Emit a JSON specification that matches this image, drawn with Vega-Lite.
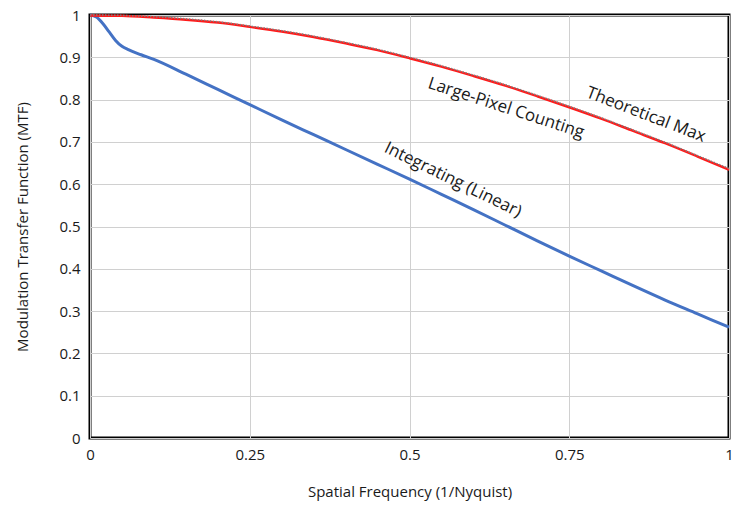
{
  "$schema": "https://vega.github.io/schema/vega-lite/v6.json",
  "width": 639,
  "height": 423,
  "autosize": "none",
  "padding": {"left": 90, "top": 15, "right": 16, "bottom": 70},
  "background": "white",
  "config": {
    "font": "Open Sans",
    "view": {"stroke": "black", "strokeWidth": 3},
    "axis": {"domain": false, "ticks": false, "grid": true, "gridColor": "#d0d0d0", "gridWidth": 1, "labelFont": "Open Sans", "labelFontSize": 15, "labelColor": "#1a1a1a", "titleFont": "Open Sans", "titleFontSize": 15, "titleFontWeight": "normal", "titleColor": "#1a1a1a"}
  },
  "datasets": {
    "theory": [
      {"f": 0, "mtf": 1.0}, {"f": 0.05, "mtf": 0.999}, {"f": 0.1, "mtf": 0.996}, {"f": 0.15, "mtf": 0.991},
      {"f": 0.2, "mtf": 0.984}, {"f": 0.25, "mtf": 0.974}, {"f": 0.3, "mtf": 0.963}, {"f": 0.35, "mtf": 0.950},
      {"f": 0.4, "mtf": 0.935}, {"f": 0.45, "mtf": 0.919}, {"f": 0.5, "mtf": 0.900}, {"f": 0.55, "mtf": 0.880},
      {"f": 0.6, "mtf": 0.858}, {"f": 0.65, "mtf": 0.835}, {"f": 0.7, "mtf": 0.810}, {"f": 0.75, "mtf": 0.784},
      {"f": 0.8, "mtf": 0.757}, {"f": 0.85, "mtf": 0.728}, {"f": 0.9, "mtf": 0.699}, {"f": 0.95, "mtf": 0.668},
      {"f": 1.0, "mtf": 0.637}
    ],
    "counting": [
      {"f": 0, "mtf": 0.999}, {"f": 0.05, "mtf": 0.998}, {"f": 0.1, "mtf": 0.994}, {"f": 0.15, "mtf": 0.989},
      {"f": 0.2, "mtf": 0.982}, {"f": 0.25, "mtf": 0.972}, {"f": 0.3, "mtf": 0.961}, {"f": 0.35, "mtf": 0.948},
      {"f": 0.4, "mtf": 0.933}, {"f": 0.45, "mtf": 0.917}, {"f": 0.5, "mtf": 0.898}, {"f": 0.55, "mtf": 0.878},
      {"f": 0.6, "mtf": 0.856}, {"f": 0.65, "mtf": 0.833}, {"f": 0.7, "mtf": 0.808}, {"f": 0.75, "mtf": 0.782},
      {"f": 0.8, "mtf": 0.755}, {"f": 0.85, "mtf": 0.726}, {"f": 0.9, "mtf": 0.697}, {"f": 0.95, "mtf": 0.666},
      {"f": 1.0, "mtf": 0.634}
    ],
    "integrating": [
      {"f": 0, "mtf": 1.0}, {"f": 0.01, "mtf": 0.995}, {"f": 0.02, "mtf": 0.98}, {"f": 0.03, "mtf": 0.96},
      {"f": 0.04, "mtf": 0.94}, {"f": 0.05, "mtf": 0.926}, {"f": 0.06, "mtf": 0.918}, {"f": 0.08, "mtf": 0.906},
      {"f": 0.1, "mtf": 0.895}, {"f": 0.15, "mtf": 0.860}, {"f": 0.2, "mtf": 0.824}, {"f": 0.25, "mtf": 0.788},
      {"f": 0.3, "mtf": 0.752}, {"f": 0.35, "mtf": 0.717}, {"f": 0.4, "mtf": 0.682}, {"f": 0.45, "mtf": 0.647},
      {"f": 0.5, "mtf": 0.612}, {"f": 0.55, "mtf": 0.576}, {"f": 0.6, "mtf": 0.540}, {"f": 0.65, "mtf": 0.503},
      {"f": 0.7, "mtf": 0.466}, {"f": 0.75, "mtf": 0.430}, {"f": 0.8, "mtf": 0.395}, {"f": 0.85, "mtf": 0.360},
      {"f": 0.9, "mtf": 0.326}, {"f": 0.95, "mtf": 0.294}, {"f": 1.0, "mtf": 0.262}
    ],
    "labels": [
      {"f": 0.870, "mtf": 0.764, "text": "Theoretical Max", "angle": 21},
      {"f": 0.651, "mtf": 0.780, "text": "Large-Pixel Counting", "angle": 18},
      {"f": 0.568, "mtf": 0.610, "text": "Integrating (Linear)", "angle": 26}
    ]
  },
  "encoding": {
    "x": {"field": "f", "type": "quantitative", "scale": {"domain": [0, 1], "nice": false},
      "axis": {"values": [0, 0.25, 0.5, 0.75, 1], "labelExpr": "datum.value + ''", "title": "Spatial Frequency (1/Nyquist)", "labelPadding": 9, "titlePadding": 22, "labelFlush": false}},
    "y": {"field": "mtf", "type": "quantitative", "scale": {"domain": [0, 1], "nice": false},
      "axis": {"values": [0, 0.1, 0.2, 0.3, 0.4, 0.5, 0.6, 0.7, 0.8, 0.9, 1], "labelExpr": "datum.value + ''", "title": "Modulation Transfer Function (MTF)", "labelPadding": 10, "titlePadding": 28, "labelFlush": false}}
  },
  "layer": [
    {"data": {"name": "integrating"}, "mark": {"type": "line", "color": "#4472C4", "strokeWidth": 3, "interpolate": "monotone"}},
    {"data": {"name": "counting"}, "mark": {"type": "line", "color": "#FF1A1A", "strokeWidth": 2.5, "interpolate": "monotone"}},
    {"data": {"name": "theory"}, "mark": {"type": "line", "color": "#7f7f7f", "strokeWidth": 1.5, "strokeDash": [1.5, 1.5], "interpolate": "monotone"}},
    {"data": {"name": "labels"}, "mark": {"type": "text", "font": "Open Sans", "fontSize": 17, "color": "#1a1a1a", "align": "center", "baseline": "middle"},
      "encoding": {"text": {"field": "text"}, "angle": {"field": "angle", "type": "quantitative", "scale": null}}}
  ]
}
